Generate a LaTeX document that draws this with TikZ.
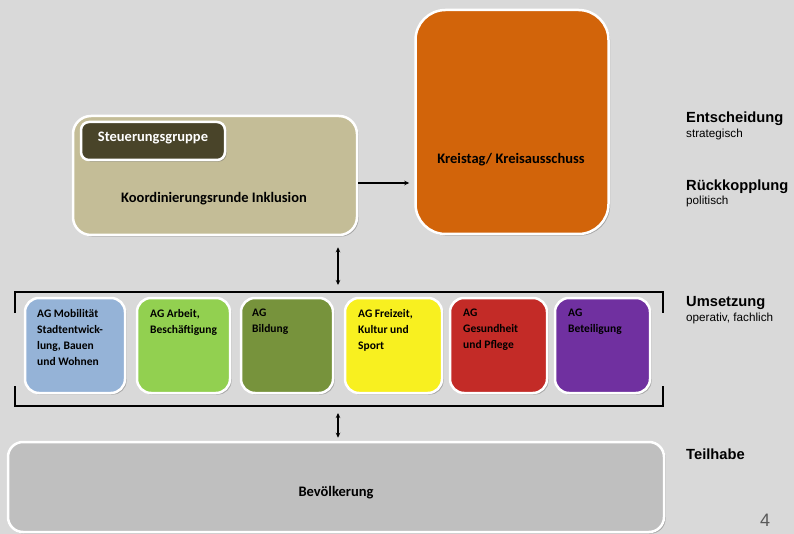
\documentclass[tikz,border=0pt]{standalone}
\usepackage{fontspec}
\setmainfont{Carlito}
\newfontfamily\arialf{Liberation Sans}
\usetikzlibrary{shadows,arrows.meta,calc}
\definecolor{bgc}{HTML}{D9D9D9}
\definecolor{tanc}{HTML}{C4BD97}
\definecolor{darkc}{HTML}{494429}
\definecolor{orangec}{HTML}{D2640A}
\definecolor{bluec}{HTML}{95B3D7}
\definecolor{lgreenc}{HTML}{92D050}
\definecolor{olivec}{HTML}{77933C}
\definecolor{yellowc}{HTML}{F8F020}
\definecolor{redc}{HTML}{C32B27}
\definecolor{purplec}{HTML}{7030A0}
\definecolor{greyc}{HTML}{BFBFBF}
\definecolor{numc}{HTML}{595959}
\tikzset{
  box/.style={draw=white, line width=2.5pt, rounded corners=#1, inner sep=0pt,
    drop shadow={shadow xshift=1.6pt, shadow yshift=-1.6pt, opacity=0.45, fill=black!60}},
  box/.default=15pt,
  maintext/.style={font=\bfseries\fontsize{14.5}{17}\selectfont, inner sep=0pt},
  agtext/.style={font=\bfseries\fontsize{11.5}{16}\selectfont, align=left, inner sep=0pt, anchor=north west},
  lvlhead/.style={font=\arialf\bfseries\fontsize{14.7}{17}\selectfont, inner sep=0pt, anchor=west},
  lvlsub/.style={font=\arialf\fontsize{11.7}{14}\selectfont, inner sep=0pt, anchor=west},
  conn/.style={line width=1.4pt, {Stealth[length=5pt,width=4.5pt]}-{Stealth[length=5pt,width=4.5pt]}},
  bracket/.style={line width=1.6pt},
}
\begin{document}
\begin{tikzpicture}[x=1pt,y=-1pt]
\fill[bgc] (0,0) rectangle (794,534);
\useasboundingbox (0,0) rectangle (794,534);

% top boxes
\node[box=18pt, fill=tanc, minimum width=284pt, minimum height=119pt] (kr) at (215,175.5) {};
\node[box=8pt, fill=darkc, minimum width=144pt, minimum height=38pt] (sg) at (153,141) {};
\node[maintext, text=white] (sgt) at (153,138) {Steuerungsgruppe};
\node[maintext] (krt) at (214,199) {Koordinierungsrunde Inklusion};

\node[box=30pt, fill=orangec, minimum width=193pt, minimum height=224pt] (kt) at (512,122) {};
\node[maintext] (ktt) at (511,160) {Kreistag/ Kreisausschuss};

% arrow Koordinierungsrunde -> Kreistag
\coordinate (h) at ([yshift=-7.5pt]kr.east);
\draw[line width=1.4pt, -{Stealth[length=5pt,width=4.5pt]}, shorten >=5pt] (h) -- (h -| kt.west);

% bracket around AGs
\coordinate (brtl) at (15,292);
\coordinate (brtr) at (663,292);
\coordinate (brbl) at (15,406);
\coordinate (brbr) at (663,406);
\draw[bracket] ([yshift=-21pt]brtl) -- (brtl) -- (brtr) -- ([yshift=-21pt]brtr);
\draw[bracket] ([yshift=20pt]brbl) -- (brbl) -- (brbr) -- ([yshift=20pt]brbr);
\coordinate (brtop) at (338,292);
\coordinate (brbot) at (338,406);

% AG boxes
\node[box=14pt, fill=bluec,    minimum width=100pt, minimum height=95pt] (b1) at (75,345.5) {};
\node[box=14pt, fill=lgreenc,  minimum width=93pt,  minimum height=95pt] (b2) at (183.5,345.5) {};
\node[box=14pt, fill=olivec,   minimum width=92pt,  minimum height=95pt] (b3) at (287,345.5) {};
\node[box=14pt, fill=yellowc,  minimum width=97pt,  minimum height=95pt] (b4) at (393.5,345.5) {};
\node[box=14pt, fill=redc,     minimum width=97pt,  minimum height=95pt] (b5) at (498.5,345.5) {};
\node[box=14pt, fill=purplec,  minimum width=95pt,  minimum height=95pt] (b6) at (602.5,345.5) {};

\node[agtext] (t1) at (37,309) {AG Mobilität\\Stadtentwick-\\lung, Bauen\\und Wohnen};
\node[agtext] (t2) at (150,309) {AG Arbeit,\\Beschäftigung};
\node[agtext] (t3) at (252,309) {AG\\Bildung};
\node[agtext] (t4) at (358,309) {AG Freizeit,\\Kultur und\\Sport};
\node[agtext] (t5) at (463,309) {AG\\Gesundheit\\und Pflege};
\node[agtext] (t6) at (568,309) {AG\\Beteiligung};

% Bevoelkerung
\node[box=15pt, fill=greyc, minimum width=656pt, minimum height=90pt] (bev) at (336,487) {};
\node[maintext] (bevt) at (336,493) {Bevölkerung};

% vertical arrows
\draw[conn] ([yshift=-11pt]kr.south -| brtop) -- ([yshift=7pt]brtop);
\draw[conn] ([yshift=-7pt]brbot) -- ([yshift=3pt]bev.north -| brbot);

% level labels
\node[lvlhead] (l1) at (686,119) {Entscheidung};
\node[lvlsub] (l1s) at (686,134) {strategisch};
\node[lvlhead] (l2) at (686,187) {Rückkopplung};
\node[lvlsub] (l2s) at (686,201) {politisch};
\node[lvlhead] (l3) at (686,303) {Umsetzung};
\node[lvlsub] (l3s) at (686,318) {operativ, fachlich};
\node[lvlhead] (l4) at (686,454) {Teilhabe};
\node[font=\arialf\fontsize{18}{20}\selectfont, text=numc, inner sep=0pt] (pg) at (765,520) {4};
\end{tikzpicture}
\end{document}
